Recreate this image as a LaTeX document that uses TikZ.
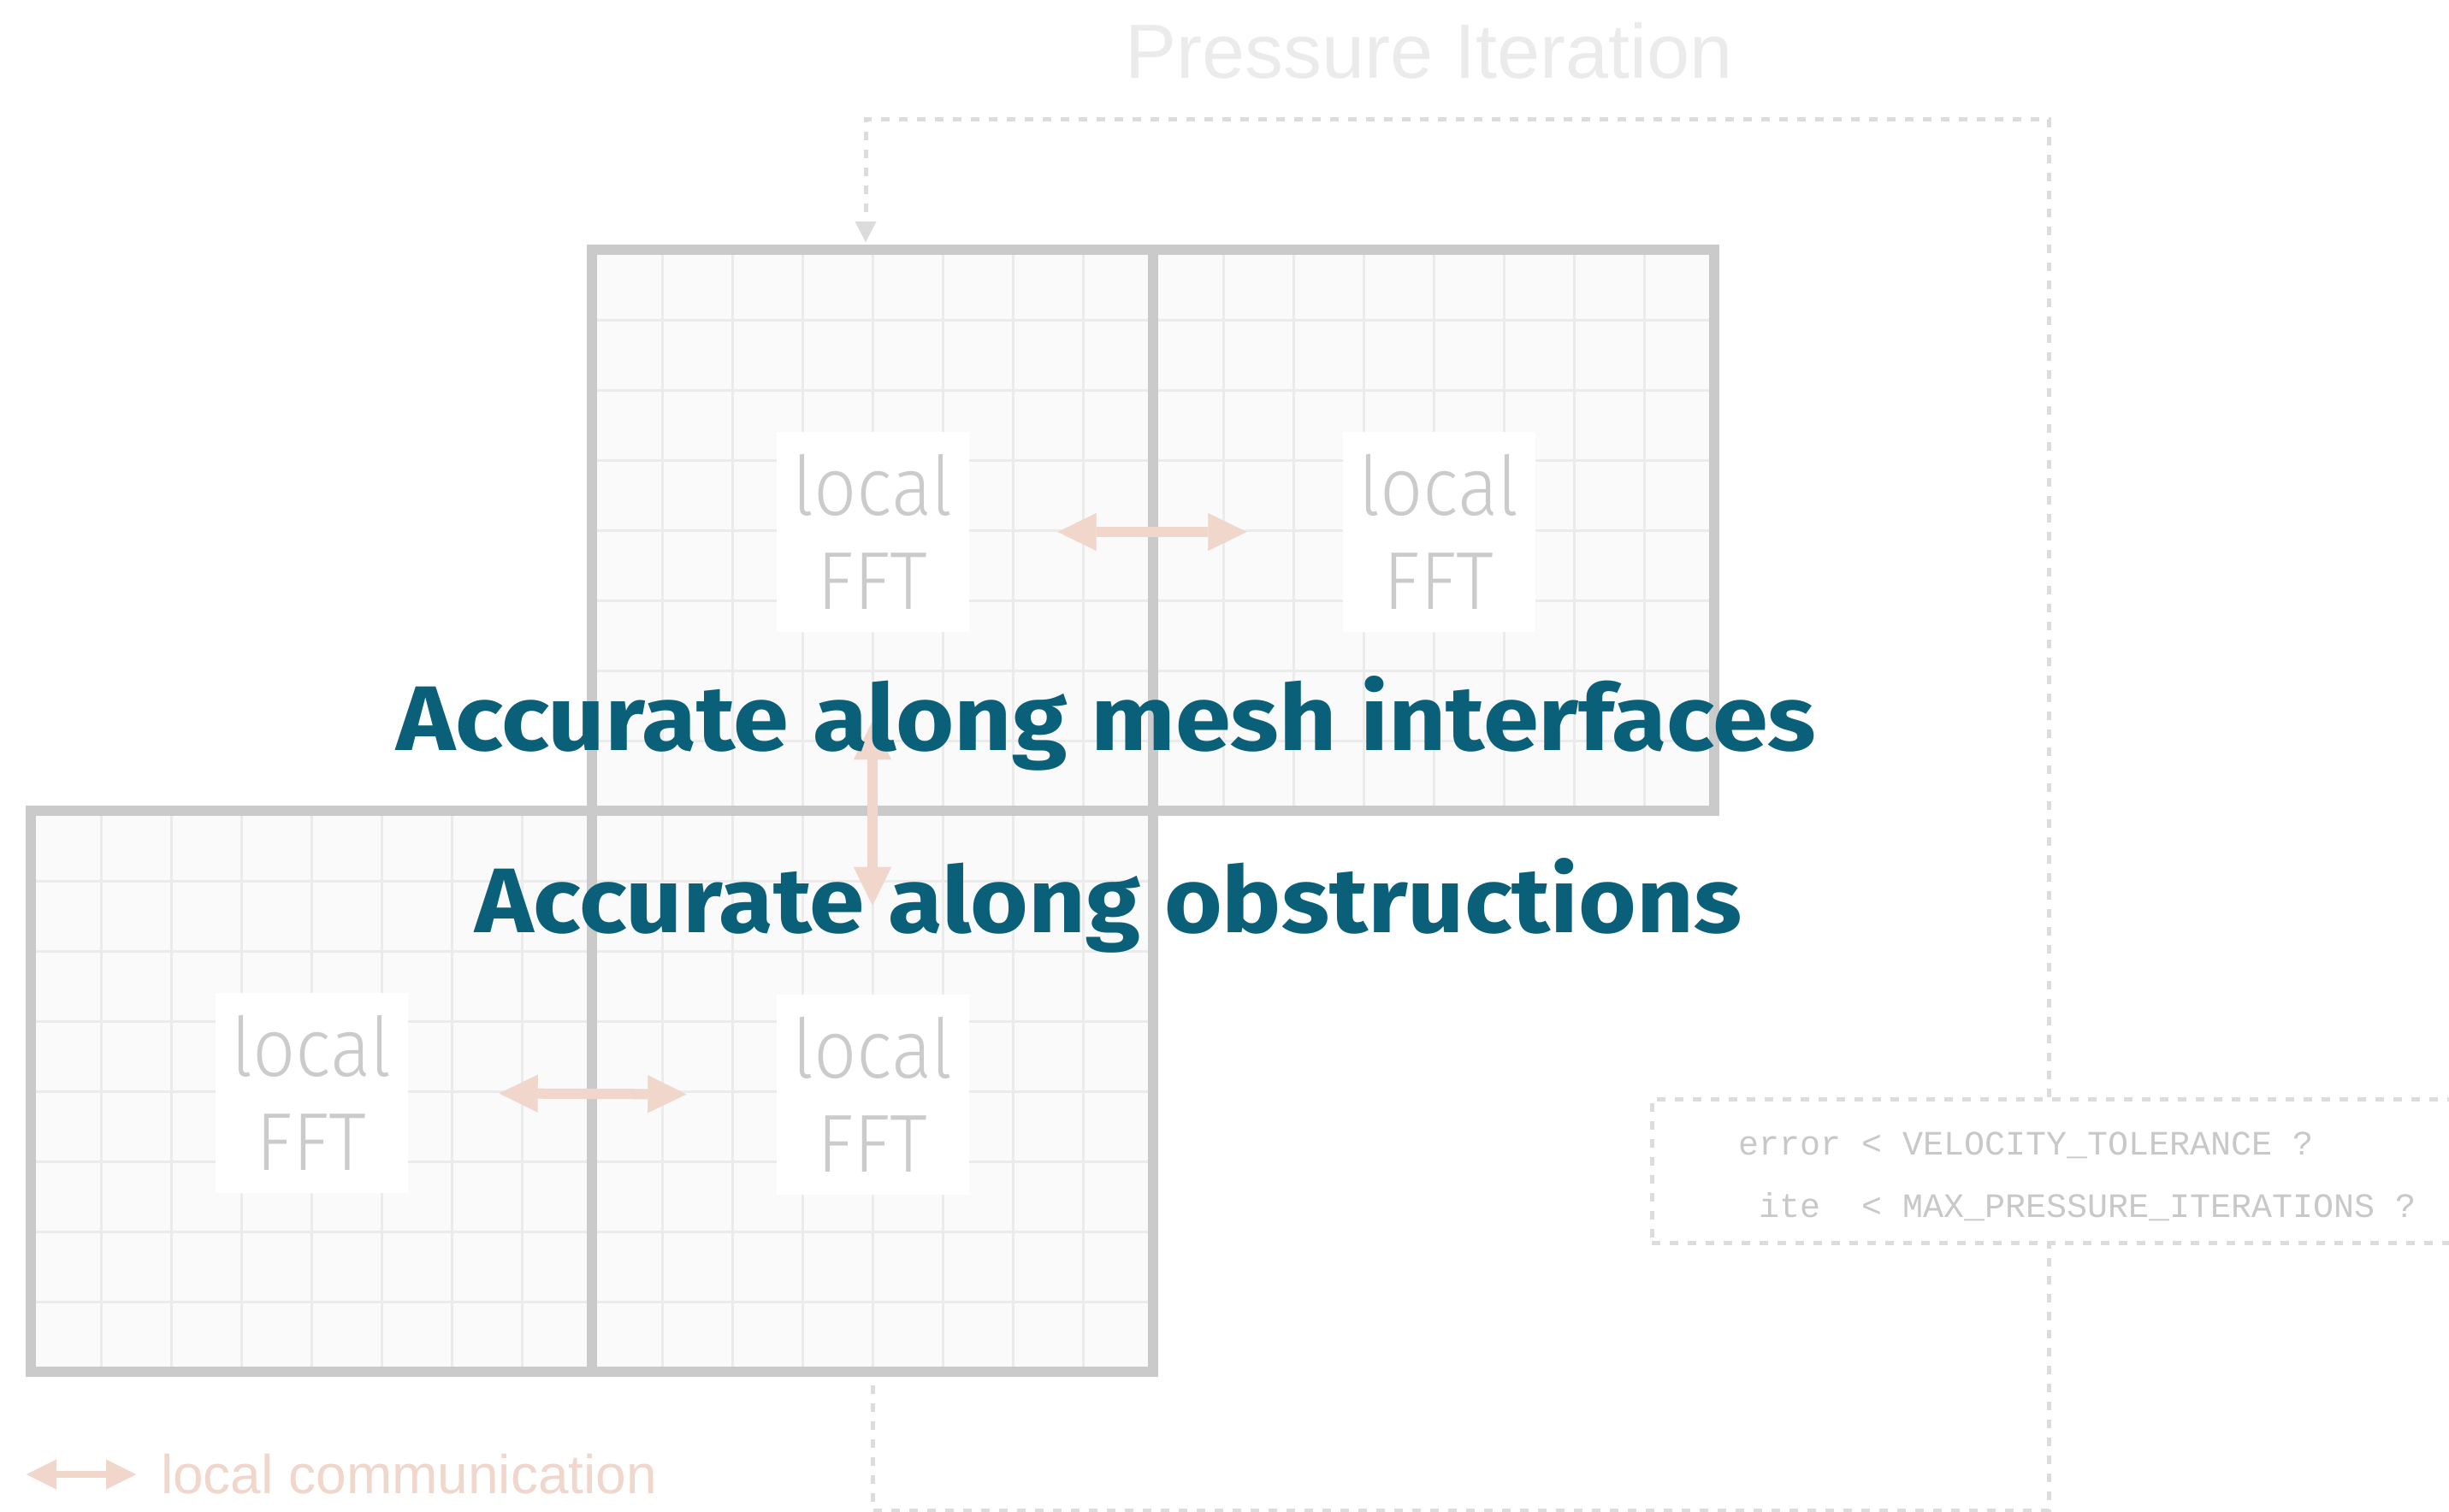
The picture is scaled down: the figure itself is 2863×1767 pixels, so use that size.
\documentclass[tikz,border=0pt]{standalone}
\usepackage{fontspec}
\usepackage{graphicx}
\setmainfont{Liberation Sans}
\newfontfamily\accfont{Fira Sans}
\newfontfamily\fftfont{Fira Sans Light}[FakeStretch=0.92]
\newfontfamily\codefont{Liberation Mono}
\usetikzlibrary{arrows.meta}
\definecolor{meshfill}{HTML}{FAFAFA}
\definecolor{gridcol}{HTML}{EBEBEB}
\definecolor{meshborder}{HTML}{CACACA}
\definecolor{ffttext}{HTML}{CBCBCB}
\definecolor{arrowcol}{HTML}{F0D6CB}
\definecolor{dashcol}{HTML}{DCDCDC}
\definecolor{titlecol}{HTML}{EBEBEB}
\definecolor{codecol}{HTML}{C8C8C8}
\definecolor{tealcol}{HTML}{0A6079}
\begin{document}
\begin{tikzpicture}[x=1pt,y=-1pt,
  mesh/.style={draw=meshborder, line width=12pt, fill=meshfill, minimum width=656pt, minimum height=656pt, inner sep=0pt, outer sep=0pt},
  gridln/.style={draw=gridcol, line width=3pt},
  fftbox/.style={fill=white, minimum width=225pt, minimum height=234pt, inner sep=0pt, align=center, text=ffttext, font=\fftfont\fontsize{96}{110}\selectfont},
  comm/.style={draw=arrowcol, line width=12pt, {Triangle[length=45pt,width=44pt,line width=0.01pt]}-{Triangle[length=45pt,width=44pt,line width=0.01pt]}},
  legendarrow/.style={draw=arrowcol, line width=8pt, {Triangle[length=35pt,width=35pt,line width=0.01pt]}-{Triangle[length=35pt,width=35pt,line width=0.01pt]}},
  loopline/.style={draw=dashcol, line width=5pt, dash pattern=on 10pt off 11pt},
  condbox/.style={draw=dashcol, line width=5pt, dash pattern=on 10pt off 11pt, fill=white, minimum width=1100pt, minimum height=168pt, inner sep=0pt},
  codetext/.style={text=codecol, inner sep=0pt, align=left, font=\codefont\fontsize{40}{73}\selectfont},
  acc/.style={text=tealcol, inner sep=0pt, font=\accfont\bfseries\fontsize{120}{120}\selectfont},
  plain/.style={inner sep=0pt}
]
\useasboundingbox (0,0) rectangle (2863,1767);
\clip (0,0) rectangle (2863,1767);

% meshes
\node[mesh] (m1) at (1020,620) {};
\node[mesh] (m2) at (1676,620) {};
\node[mesh] (m3) at (364,1276) {};
\node[mesh] (m4) at (1020,1276) {};
\foreach \mx/\my in {692/292,1348/292,36/948,692/948}{
  \foreach \i in {1,...,7}{
    \draw[gridln] (\mx+\i*82,\my+6) -- (\mx+\i*82,\my+650);
    \draw[gridln] (\mx+6,\my+\i*82) -- (\mx+650,\my+\i*82);
  }
}
\foreach \m in {m1,m2,m3,m4}{
  \draw[meshborder, line width=12pt] (\m.north west) rectangle (\m.south east);
}

% local FFT boxes
\node[fftbox] (f1) at (1020,622) {local\\FFT};
\node[fftbox] (f2) at (1682,622) {local\\FFT};
\node[fftbox] (f3) at (364,1278) {local\\FFT};
\node[fftbox] (f4) at (1020,1280) {local\\FFT};

% local communication arrows
\draw[comm, shorten <=104pt, shorten >=112pt] (f1.east) -- (f2.west);
\draw[comm, shorten <=107pt, shorten >=105pt] (f3.east) -- (f4.west);
\draw[comm, shorten <=104pt, shorten >=104pt] (f1.south) -- (f4.north);

% pressure iteration loop
\node[plain, anchor=base west, text=titlecol, font=\fontsize{90}{90}\selectfont] (title) at (1315,91) {Pressure Iteration};
\node[condbox] (cond) at (2481,1369) {};
\node[codetext, anchor=base west] (condtxt) at (2032,1423) {error < VELOCITY\_TOLERANCE ?\\\hspace*{24pt}ite\ \ < MAX\_PRESSURE\_ITERATIONS ?};
\coordinate (lp0) at ([yshift=-16pt]m4.south);
\coordinate (lp1) at (1020,1766);
\coordinate (lp2) at (2395,1766);
\coordinate (lp3) at (2395,139);
\coordinate (lp4) at (1012,139);
\coordinate (lp5) at ([xshift=-8pt]m1.north);
\draw[loopline] (lp0) -- (lp1) -- (lp2) -- (lp2 |- cond.south);
\draw[loopline] (lp2 |- cond.north) -- (lp3) -- (lp4) -- ([yshift=28pt]lp5);
\draw[draw=dashcol, line width=5pt, -{Triangle[length=24pt,width=25pt,line width=0.01pt]}, shorten >=9pt] ([yshift=30pt]lp5) -- (lp5);

% headline texts
\node[acc, anchor=base west] (acc1) at (463,877) {\resizebox{1660pt}{87pt}{Accurate along mesh interfaces}};
\node[acc, anchor=base west] (acc2) at (555,1090) {\resizebox{1481pt}{87pt}{Accurate along obstructions}};

% legend
\coordinate (lg0) at (31,1724);
\coordinate (lg1) at (159,1724);
\draw[legendarrow] (lg0) -- (lg1);
\node[plain, anchor=base west, text=arrowcol, font=\fontsize{64}{64}\selectfont] (legend) at (188,1746) {local communication};
\end{tikzpicture}
\end{document}
